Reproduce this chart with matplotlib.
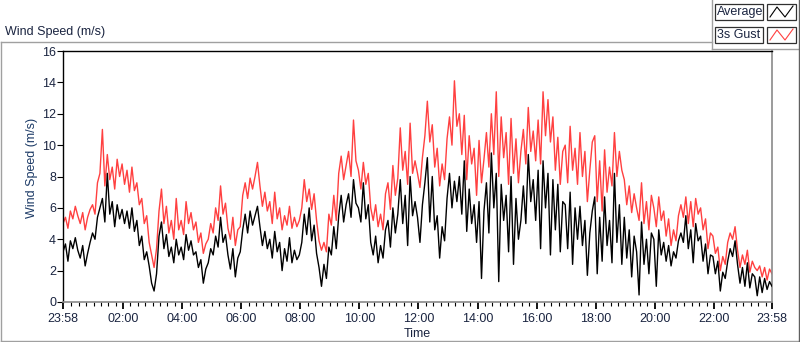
import numpy as np
import matplotlib
matplotlib.use("Agg")
import matplotlib.pyplot as plt
from matplotlib.patches import Rectangle
from matplotlib.lines import Line2D

plt.rcParams['font.family'] = ['Liberation Sans', 'DejaVu Sans']

# ---- data: 5-minute samples starting 23:58 ----
gust_rows = [
    [5.0, 5.4, 4.7, 5.8, 5.3, 6.1, 5.5, 5.0, 5.7, 4.6, 5.4, 5.9],
    [6.2, 5.6, 7.6, 8.2, 11.0, 7.4, 9.4, 7.8, 8.6, 7.2, 9.1, 8.0],
    [8.8, 7.5, 8.4, 7.0, 8.6, 7.1, 7.6, 6.2, 6.6, 5.0, 5.5, 3.8],
    [3.0, 2.2, 3.4, 5.8, 7.2, 5.0, 6.1, 4.4, 5.2, 4.0, 6.6, 4.6],
    [5.2, 4.3, 6.4, 5.0, 5.7, 4.6, 5.1, 3.8, 4.4, 3.1, 3.7, 4.0],
    [5.0, 4.4, 6.0, 5.2, 7.4, 5.6, 6.3, 4.7, 4.0, 5.4, 3.6, 4.6],
    [4.8, 6.8, 7.6, 6.6, 7.9, 7.2, 8.0, 8.9, 7.4, 6.1, 7.0, 5.8],
    [6.4, 5.0, 7.0, 5.3, 6.0, 4.6, 5.5, 4.9, 6.1, 4.7, 5.4, 4.8],
    [5.2, 6.0, 7.8, 6.4, 7.2, 5.9, 6.9, 5.2, 3.9, 3.3, 3.8, 3.2],
    [5.6, 4.9, 6.8, 5.2, 8.2, 9.3, 7.8, 8.7, 9.6, 8.0, 11.6, 9.0],
    [8.4, 7.2, 8.9, 7.5, 8.2, 6.0, 5.2, 6.2, 4.8, 5.6, 4.6, 6.9],
    [7.6, 5.9, 8.7, 6.8, 7.9, 11.1, 8.4, 9.6, 7.5, 11.4, 8.2, 9.0],
    [8.2, 7.3, 9.2, 10.6, 12.8, 10.2, 11.3, 8.6, 9.8, 7.4, 8.8, 7.8],
    [10.4, 11.8, 10.0, 14.1, 11.2, 12.0, 9.4, 11.9, 7.8, 10.6, 8.8, 9.8],
    [6.8, 10.3, 7.6, 9.1, 10.8, 8.6, 12.0, 9.4, 13.4, 8.0, 11.8, 9.2],
    [10.8, 7.5, 11.7, 8.2, 10.4, 7.6, 9.6, 11.0, 8.8, 12.4, 9.6, 10.9],
    [9.0, 11.6, 8.8, 13.4, 10.6, 12.9, 10.2, 11.8, 8.4, 10.5, 7.5, 9.6],
    [10.0, 7.6, 11.2, 8.4, 9.8, 7.5, 10.8, 8.0, 9.6, 6.4, 8.4, 10.2],
    [10.6, 6.4, 9.0, 5.8, 9.7, 7.0, 8.6, 7.4, 10.8, 8.0, 9.6, 8.4],
    [7.8, 6.2, 7.4, 5.7, 6.9, 6.0, 5.2, 7.6, 5.0, 6.4, 4.6, 6.8],
    [6.0, 4.8, 6.7, 5.2, 5.8, 4.2, 5.3, 3.6, 4.6, 3.9, 5.5, 6.2],
    [5.4, 6.7, 5.0, 6.4, 4.8, 6.6, 5.6, 6.0, 4.6, 5.3, 3.4, 4.4],
    [4.2, 3.1, 3.5, 2.0, 2.9, 2.4, 3.8, 4.4, 4.0, 4.8, 3.3, 2.2],
    [3.0, 2.4, 3.3, 1.9, 2.6, 2.2, 2.0, 2.3, 1.6, 2.2, 1.4, 2.1, 1.8],
]
avg_rows = [
    [3.2, 3.7, 2.6, 3.9, 3.4, 4.1, 3.3, 2.8, 3.6, 2.3, 3.1, 3.8],
    [4.4, 4.0, 5.4, 6.0, 6.6, 5.1, 8.2, 5.6, 6.4, 4.8, 6.2, 5.3],
    [5.9, 5.0, 5.8, 4.7, 6.0, 4.5, 5.2, 3.6, 4.2, 2.7, 3.2, 2.3],
    [1.2, 0.7, 1.8, 4.2, 5.1, 3.4, 4.3, 2.9, 3.5, 2.5, 4.0, 3.0],
    [3.5, 2.7, 4.3, 3.3, 3.9, 3.0, 3.2, 2.2, 2.7, 1.2, 2.1, 2.5],
    [3.4, 3.0, 4.2, 3.5, 5.4, 3.8, 4.3, 3.0, 2.1, 3.4, 1.6, 2.8],
    [3.2, 4.6, 5.6, 4.4, 5.8, 4.9, 5.5, 6.1, 4.8, 3.6, 4.5, 3.4],
    [4.0, 2.8, 4.5, 3.2, 3.8, 2.0, 3.4, 2.6, 4.1, 2.5, 3.3, 2.7],
    [3.0, 3.8, 5.6, 4.3, 6.0, 3.9, 4.9, 3.1, 2.2, 1.0, 2.4, 1.5],
    [3.5, 3.0, 4.8, 3.4, 5.5, 6.8, 5.1, 6.2, 6.9, 5.4, 7.8, 6.3],
    [6.0, 5.1, 7.6, 5.3, 6.2, 3.8, 3.0, 4.2, 2.5, 3.6, 2.8, 4.6],
    [5.2, 3.5, 6.0, 4.4, 5.6, 7.8, 5.0, 6.8, 3.6, 8.0, 5.5, 6.4],
    [5.4, 3.8, 6.2, 7.6, 9.2, 5.1, 8.0, 4.6, 5.5, 2.8, 4.8, 3.9],
    [6.6, 8.2, 6.0, 7.7, 6.4, 8.0, 5.6, 9.0, 4.5, 7.2, 5.0, 6.2],
    [3.8, 6.4, 1.5, 5.8, 7.6, 4.4, 9.5, 6.0, 8.2, 1.3, 7.5, 5.2],
    [6.8, 3.2, 8.0, 2.4, 6.6, 4.0, 5.2, 7.4, 5.0, 9.4, 6.4, 7.8],
    [5.2, 8.4, 3.4, 9.0, 6.0, 8.2, 3.0, 7.8, 4.6, 7.5, 3.2, 6.4],
    [6.2, 3.4, 7.0, 2.4, 6.0, 4.0, 6.1, 3.6, 5.2, 1.7, 4.4, 5.8],
    [6.7, 1.8, 5.4, 2.6, 6.7, 3.6, 5.2, 2.5, 8.2, 3.8, 6.2, 2.4],
    [5.4, 2.8, 4.6, 1.6, 4.2, 3.2, 0.45, 5.1, 2.4, 4.0, 1.8, 4.4],
    [4.0, 1.0, 4.6, 3.0, 3.8, 2.6, 3.6, 2.3, 3.2, 2.8, 3.9, 4.4],
    [3.8, 5.5, 3.4, 4.6, 2.5, 5.0, 3.9, 4.2, 2.6, 3.7, 1.8, 3.0],
    [2.9, 1.8, 2.6, 0.7, 1.9, 1.5, 2.6, 3.4, 2.9, 3.9, 2.4, 1.2],
    [2.2, 1.0, 2.5, 0.9, 1.8, 1.6, 0.4, 1.6, 0.6, 1.5, 0.8, 1.3, 1.0],
]
gust = [v for row in gust_rows for v in row]
average = [v for row in avg_rows for v in row]
minutes = np.arange(len(gust)) * 5  # minutes since 23:58

tick_minutes = [0, 122, 242, 362, 482, 602, 722, 842, 962, 1082, 1202, 1322, 1440]
tick_labels = ['23:58', '02:00', '04:00', '06:00', '08:00', '10:00', '12:00',
               '14:00', '16:00', '18:00', '20:00', '22:00', '23:58']
y_ticks = [0, 2, 4, 6, 8, 10, 12, 14, 16]

# ---- figure ----
W, H = 800, 342
fig = plt.figure(figsize=(W / 100, H / 100), dpi=100, facecolor='white')

def fx(x):
    return x / W

def fy(y):
    return 1 - y / H

txt_col = '#1a2440'
lab_col = '#1c3a66'
frame_col = '#a0a0a0'

ax = fig.add_axes([fx(63), fy(302), (772 - 63) / W, (302 - 51) / H])
ax.plot(minutes, gust, color='#ff4040', lw=1.0, zorder=2)
ax.plot(minutes, average, color='black', lw=1.0, zorder=3)
ax.set_xlim(0, 1440)
ax.set_ylim(0, 16)
ax.set_xticks(tick_minutes)
ax.set_xticklabels(tick_labels)
minor = [m for m in range(17, 1440, 15) if m not in tick_minutes]
ax.set_xticks(minor, minor=True)
ax.set_yticks(y_ticks)
ax.tick_params(axis='x', which='major', length=5, width=1.3, color='black',
               labelsize=9, labelcolor=txt_col, pad=3)
ax.tick_params(axis='x', which='minor', length=3, width=0.8, color='black')
ax.tick_params(axis='y', which='major', length=4, width=0.8, color='black',
               labelsize=9, labelcolor=txt_col, pad=1)
for s in ['left', 'top']:
    ax.spines[s].set_color('black')
    ax.spines[s].set_linewidth(1.0)
for s in ['right', 'bottom']:
    ax.spines[s].set_color('#8a8a8a')
    ax.spines[s].set_linewidth(1.2)
fig.text(fx(417), fy(334), 'Time', ha='center', va='center', fontsize=9, color=txt_col)
fig.text(fx(32), fy(168), 'Wind Speed (m/s)', rotation=90, ha='center', va='center',
         fontsize=9, color=lab_col)

# title
fig.text(fx(5), fy(32), 'Wind Speed (m/s)', ha='left', va='center', fontsize=9, color=txt_col)

# outer frame
def line(xs, ys, col=frame_col, lw=1.0):
    fig.add_artist(Line2D([fx(x) for x in xs], [fy(y) for y in ys], color=col, lw=lw))

line([0.5, 712], [42, 42])
line([0.5, 0.5], [42, 341])
line([0.5, 799], [341, 341])
line([712, 712], [0, 49])
line([712, 799], [49, 49])
line([799, 799], [0, 341], col='#606060')

# legend
def legend_row(y0, label, col):
    fig.add_artist(Rectangle((fx(715), fy(y0 + 16)), 48 / W, 16 / H, transform=fig.transFigure,
                             facecolor='white', edgecolor='#303030', lw=0.9))
    fig.text(fx(717), fy(y0 + 8), label, ha='left', va='center', fontsize=9, color=txt_col)
    fig.add_artist(Rectangle((fx(767), fy(y0 + 16)), 29 / W, 16 / H, transform=fig.transFigure,
                             facecolor='white', edgecolor='#303030', lw=0.9))
    line([770, 777, 785, 793], [y0 + 13, y0 + 3, y0 + 13, y0 + 2], col=col, lw=0.8)

legend_row(4, 'Average', 'black')
legend_row(27, '3s Gust', '#ff4040')

fig.savefig('out.png', dpi=100, facecolor='white')
